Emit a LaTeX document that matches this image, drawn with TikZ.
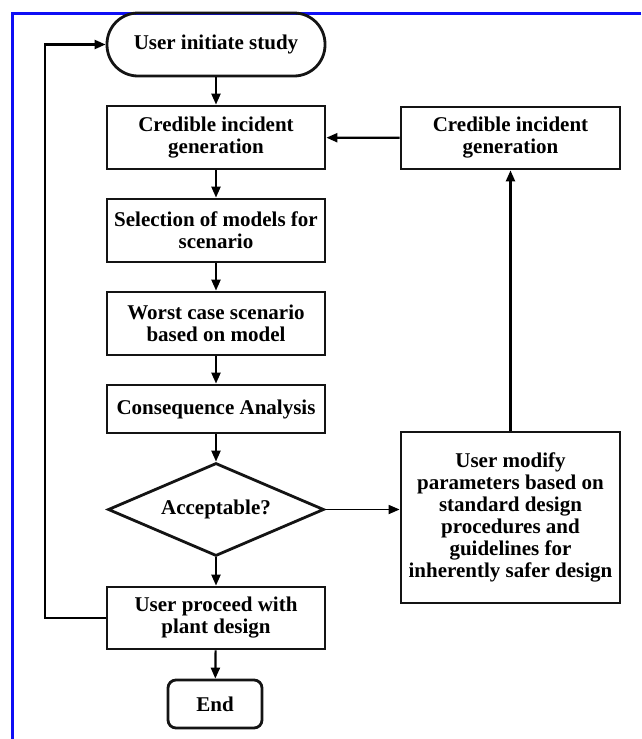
\documentclass[tikz,border=0pt]{standalone}
\usepackage{fontspec}
\setmainfont{Liberation Serif}
\usepackage{tikz}
\usetikzlibrary{arrows.meta,shapes.geometric}
\definecolor{frame_blue}{RGB}{15,15,245}
\definecolor{line_black}{RGB}{20,20,20}

\begin{document}
\begin{tikzpicture}[->,line width=2.2pt,>={Triangle[length=11pt,width=9pt]},x=1pt,y=-1pt]
    \tikzstyle{box}=[draw=line_black, line width=2.8pt, rectangle, minimum width=218pt, minimum height=63pt, inner sep=2pt, align=center, text=black, font=\fontsize{21}{22}\selectfont\bfseries]
    \tikzstyle{term}=[box, rounded corners=31pt]
    \tikzstyle{decision}=[box, diamond, aspect=2.32, minimum width=216pt, minimum height=93pt, inner sep=0pt]

    \useasboundingbox[fill=white] (0,0) rectangle (641,739);
    \draw[-,frame_blue,line width=3pt] (641,13) -- (12,13) -- (12,739);

    \node[term] (start) at (216,44.5) {User initiate study};
    \node[box] (incident) at (216,137.5) {Credible incident\\generation};
    \node[box] (models) at (216,230.5) {Selection of models for\\scenario};
    \node[box] (worst) at (216,323.5) {Worst case scenario\\based on model};
    \node[box, minimum height=48pt] (conseq) at (216,409) {Consequence Analysis};
    \node[decision] (accept) at (216,509.5) {Acceptable?};
    \node[box, minimum height=62pt] (proceed) at (216,618) {User proceed with\\plant design};
    \node[box, rounded corners=8pt, minimum width=94pt, minimum height=48pt] (end) at (215,704) {End};

    \node[box, minimum width=219pt, minimum height=62pt] (incident2) at (510.5,138) {Credible incident\\generation};
    \node[box, minimum width=219pt, minimum height=171pt] (modify) at (510.5,517.5) {User modify\\parameters based on\\standard design\\procedures and\\guidelines for\\inherently safer design};

    \coordinate (loop) at (45,618);

    \path
     (start) edge (incident)
     (incident) edge (models)
     (models) edge (worst)
     (worst) edge (conseq)
     (conseq) edge (accept)
     (accept) edge (proceed)
     (proceed) edge (end)
     (modify) edge (incident2)
     (incident2) edge (incident)
     ;
    \draw[line width=1.7pt] (accept.east) -- (accept.east -| modify.west);
    \draw (proceed.west) -- (loop) |- (start.west);
\end{tikzpicture}
\end{document}
